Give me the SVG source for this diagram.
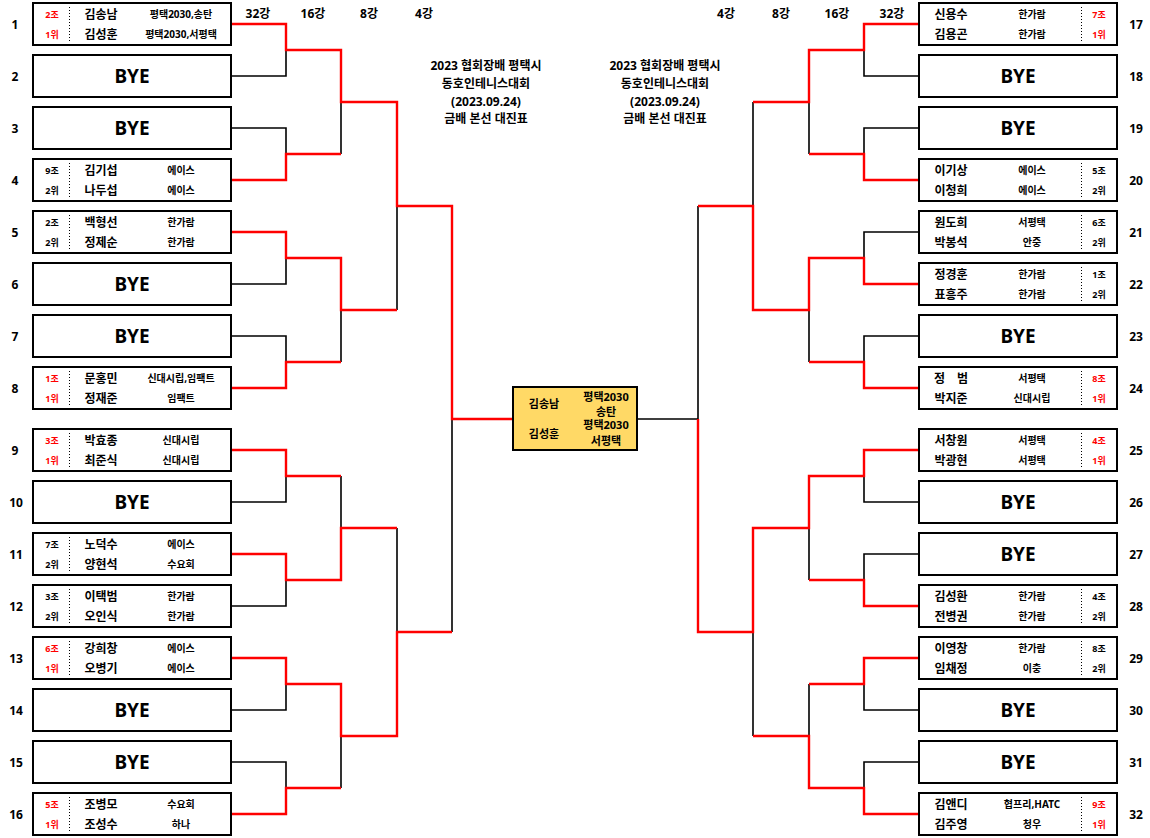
<svg xmlns="http://www.w3.org/2000/svg" width="1150" height="838" viewBox="0 0 1150 838">
<style>
text{font-family:"Noto Sans","Noto Sans CJK KR",sans-serif;font-weight:bold;text-anchor:middle;dominant-baseline:central;fill:#000}
.box{fill:#fff;stroke:#000;stroke-width:2}
.cbox{fill:#FFD966;stroke:#000;stroke-width:2}
.dv{stroke:#000;stroke-width:1;stroke-dasharray:1 2}
.nm{font-size:12px}
.cl{font-size:10px}
.g{font-size:9px}
.r{fill:#FF0000}
.bye{font-size:19px}
.no{font-size:12px}
.hd{font-size:12px}
.tt{font-size:12px}
.ct{font-size:11px}
.bk{fill:none;stroke:#000;stroke-width:1.6}
.rd{fill:none;stroke:#FF0000;stroke-width:2.4}
</style>
<rect x="0" y="0" width="1150" height="838" fill="#fff"/>
<g id="headers">
<text class="hd" x="258" y="13">32강</text>
<text class="hd" x="313" y="13">16강</text>
<text class="hd" x="369" y="13">8강</text>
<text class="hd" x="424" y="13">4강</text>
<text class="hd" x="726" y="13">4강</text>
<text class="hd" x="781" y="13">8강</text>
<text class="hd" x="837" y="13">16강</text>
<text class="hd" x="892" y="13">32강</text>
</g>
<g id="title-left">
<text class="tt" x="486" y="65">2023 협회장배 평택시</text>
<text class="tt" x="486" y="83">동호인테니스대회</text>
<text class="tt" x="486" y="101">(2023.09.24)</text>
<text class="tt" x="486" y="118">금배 본선 대진표</text>
</g>
<g id="title-right">
<text class="tt" x="665" y="65">2023 협회장배 평택시</text>
<text class="tt" x="665" y="83">동호인테니스대회</text>
<text class="tt" x="665" y="101">(2023.09.24)</text>
<text class="tt" x="665" y="118">금배 본선 대진표</text>
</g>
<g id="connectors">
<g id="black-lines">
<path class="bk" d="M231 76H286V50M231 128H286V154M341 154V102M231 284H286V258M231 336H286V362M341 362V310M397 310V206M231 502H286V476M341 476V528M231 606H286V580M231 710H286V684M231 762H286V788M341 788V736M397 528V632M452 632V419"/>
<path class="bk" d="M919 76H864V50M919 128H864V154M809 154V102M753 102V206M919 232H864V258M919 336H864V362M809 362V310M698 206V419H637M919 502H864V476M919 554H864V580M809 580V528M919 710H864V684M919 762H864V788M809 684V736M753 736V632"/>
</g>
<g id="red-lines">
<path class="rd" d="M231 24H286V50H341V102H397V206H452V419H513"/>
<path class="rd" d="M231 180H286V154H341"/>
<path class="rd" d="M231 232H286V258H341V310H397"/>
<path class="rd" d="M231 388H286V362H341"/>
<path class="rd" d="M231 450H286V476H341"/>
<path class="rd" d="M231 554H286V580H341V528H397"/>
<path class="rd" d="M231 658H286V684H341V736H397V632H452"/>
<path class="rd" d="M231 814H286V788H341"/>
<path class="rd" d="M919 24H864V50H809V102H753"/>
<path class="rd" d="M919 180H864V154H809"/>
<path class="rd" d="M919 284H864V258H809V310H753V206H698"/>
<path class="rd" d="M919 388H864V362H809"/>
<path class="rd" d="M919 450H864V476H809V528H753V632H698V419"/>
<path class="rd" d="M919 606H864V580H809"/>
<path class="rd" d="M919 658H864V684H809"/>
<path class="rd" d="M919 814H864V788H809V736H753"/>
</g>
</g>
<g id="final">
<rect class="cbox" x="513" y="387" width="124" height="63"/>
<text class="ct" x="544" y="403">김송남</text>
<text class="ct" x="606" y="396">평택2030</text>
<text class="ct" x="606" y="411">송탄</text>
<text class="ct" x="544" y="433">김성훈</text>
<text class="ct" x="606" y="424">평택2030</text>
<text class="ct" x="606" y="440">서평택</text>
</g>
<g id="n1"><rect class="box" x="33" y="3" width="198" height="42"/><line class="dv" x1="69.5" y1="7" x2="69.5" y2="41"/><text class="g r" x="52" y="14">2조</text><text class="g r" x="52" y="34">1위</text><text class="nm" x="101" y="14">김송남</text><text class="nm" x="101" y="34">김성훈</text><text class="cl" x="181" y="14">평택2030,송탄</text><text class="cl" x="181" y="34">평택2030,서평택</text><text class="no" x="15" y="24">1</text></g>
<g id="n2"><rect class="box" x="33" y="55" width="198" height="42"/><text class="bye" x="132" y="76">BYE</text><text class="no" x="15" y="76">2</text></g>
<g id="n3"><rect class="box" x="33" y="107" width="198" height="42"/><text class="bye" x="132" y="128">BYE</text><text class="no" x="15" y="128">3</text></g>
<g id="n4"><rect class="box" x="33" y="159" width="198" height="42"/><line class="dv" x1="69.5" y1="163" x2="69.5" y2="197"/><text class="g" x="52" y="170">9조</text><text class="g" x="52" y="190">2위</text><text class="nm" x="101" y="170">김기섭</text><text class="nm" x="101" y="190">나두섭</text><text class="cl" x="181" y="170">에이스</text><text class="cl" x="181" y="190">에이스</text><text class="no" x="15" y="180">4</text></g>
<g id="n5"><rect class="box" x="33" y="211" width="198" height="42"/><line class="dv" x1="69.5" y1="215" x2="69.5" y2="249"/><text class="g" x="52" y="222">2조</text><text class="g" x="52" y="242">2위</text><text class="nm" x="101" y="222">백형선</text><text class="nm" x="101" y="242">정제순</text><text class="cl" x="181" y="222">한가람</text><text class="cl" x="181" y="242">한가람</text><text class="no" x="15" y="232">5</text></g>
<g id="n6"><rect class="box" x="33" y="263" width="198" height="42"/><text class="bye" x="132" y="284">BYE</text><text class="no" x="15" y="284">6</text></g>
<g id="n7"><rect class="box" x="33" y="315" width="198" height="42"/><text class="bye" x="132" y="336">BYE</text><text class="no" x="15" y="336">7</text></g>
<g id="n8"><rect class="box" x="33" y="367" width="198" height="42"/><line class="dv" x1="69.5" y1="371" x2="69.5" y2="405"/><text class="g r" x="52" y="378">1조</text><text class="g r" x="52" y="398">1위</text><text class="nm" x="101" y="378">문홍민</text><text class="nm" x="101" y="398">정재준</text><text class="cl" x="181" y="378">신대시립,임팩트</text><text class="cl" x="181" y="398">임팩트</text><text class="no" x="15" y="388">8</text></g>
<g id="n9"><rect class="box" x="33" y="429" width="198" height="42"/><line class="dv" x1="69.5" y1="433" x2="69.5" y2="467"/><text class="g r" x="52" y="440">3조</text><text class="g r" x="52" y="460">1위</text><text class="nm" x="101" y="440">박효종</text><text class="nm" x="101" y="460">최준식</text><text class="cl" x="181" y="440">신대시립</text><text class="cl" x="181" y="460">신대시립</text><text class="no" x="15" y="450">9</text></g>
<g id="n10"><rect class="box" x="33" y="481" width="198" height="42"/><text class="bye" x="132" y="502">BYE</text><text class="no" x="16" y="502">10</text></g>
<g id="n11"><rect class="box" x="33" y="533" width="198" height="42"/><line class="dv" x1="69.5" y1="537" x2="69.5" y2="571"/><text class="g" x="52" y="544">7조</text><text class="g" x="52" y="564">2위</text><text class="nm" x="101" y="544">노덕수</text><text class="nm" x="101" y="564">양현석</text><text class="cl" x="181" y="544">에이스</text><text class="cl" x="181" y="564">수요회</text><text class="no" x="16" y="554">11</text></g>
<g id="n12"><rect class="box" x="33" y="585" width="198" height="42"/><line class="dv" x1="69.5" y1="589" x2="69.5" y2="623"/><text class="g" x="52" y="596">3조</text><text class="g" x="52" y="616">2위</text><text class="nm" x="101" y="596">이택범</text><text class="nm" x="101" y="616">오인식</text><text class="cl" x="181" y="596">한가람</text><text class="cl" x="181" y="616">한가람</text><text class="no" x="16" y="606">12</text></g>
<g id="n13"><rect class="box" x="33" y="637" width="198" height="42"/><line class="dv" x1="69.5" y1="641" x2="69.5" y2="675"/><text class="g r" x="52" y="648">6조</text><text class="g r" x="52" y="668">1위</text><text class="nm" x="101" y="648">강희창</text><text class="nm" x="101" y="668">오병기</text><text class="cl" x="181" y="648">에이스</text><text class="cl" x="181" y="668">에이스</text><text class="no" x="16" y="658">13</text></g>
<g id="n14"><rect class="box" x="33" y="689" width="198" height="42"/><text class="bye" x="132" y="710">BYE</text><text class="no" x="16" y="710">14</text></g>
<g id="n15"><rect class="box" x="33" y="741" width="198" height="42"/><text class="bye" x="132" y="762">BYE</text><text class="no" x="16" y="762">15</text></g>
<g id="n16"><rect class="box" x="33" y="793" width="198" height="42"/><line class="dv" x1="69.5" y1="797" x2="69.5" y2="831"/><text class="g r" x="52" y="804">5조</text><text class="g r" x="52" y="824">1위</text><text class="nm" x="101" y="804">조병모</text><text class="nm" x="101" y="824">조성수</text><text class="cl" x="181" y="804">수요회</text><text class="cl" x="181" y="824">하나</text><text class="no" x="16" y="814">16</text></g>
<g id="n17"><rect class="box" x="919" y="3" width="198" height="42"/><line class="dv" x1="1081.5" y1="7" x2="1081.5" y2="41"/><text class="nm" x="951" y="14">신용수</text><text class="nm" x="951" y="34">김용곤</text><text class="cl" x="1032" y="14">한가람</text><text class="cl" x="1032" y="34">한가람</text><text class="g r" x="1099" y="14">7조</text><text class="g r" x="1099" y="34">1위</text><text class="no" x="1136" y="24">17</text></g>
<g id="n18"><rect class="box" x="919" y="55" width="198" height="42"/><text class="bye" x="1018" y="76">BYE</text><text class="no" x="1136" y="76">18</text></g>
<g id="n19"><rect class="box" x="919" y="107" width="198" height="42"/><text class="bye" x="1018" y="128">BYE</text><text class="no" x="1136" y="128">19</text></g>
<g id="n20"><rect class="box" x="919" y="159" width="198" height="42"/><line class="dv" x1="1081.5" y1="163" x2="1081.5" y2="197"/><text class="nm" x="951" y="170">이기상</text><text class="nm" x="951" y="190">이청희</text><text class="cl" x="1032" y="170">에이스</text><text class="cl" x="1032" y="190">에이스</text><text class="g" x="1099" y="170">5조</text><text class="g" x="1099" y="190">2위</text><text class="no" x="1136" y="180">20</text></g>
<g id="n21"><rect class="box" x="919" y="211" width="198" height="42"/><line class="dv" x1="1081.5" y1="215" x2="1081.5" y2="249"/><text class="nm" x="951" y="222">원도희</text><text class="nm" x="951" y="242">박봉석</text><text class="cl" x="1032" y="222">서평택</text><text class="cl" x="1032" y="242">안중</text><text class="g" x="1099" y="222">6조</text><text class="g" x="1099" y="242">2위</text><text class="no" x="1136" y="232">21</text></g>
<g id="n22"><rect class="box" x="919" y="263" width="198" height="42"/><line class="dv" x1="1081.5" y1="267" x2="1081.5" y2="301"/><text class="nm" x="951" y="274">정경훈</text><text class="nm" x="951" y="294">표흥주</text><text class="cl" x="1032" y="274">한가람</text><text class="cl" x="1032" y="294">한가람</text><text class="g" x="1099" y="274">1조</text><text class="g" x="1099" y="294">2위</text><text class="no" x="1136" y="284">22</text></g>
<g id="n23"><rect class="box" x="919" y="315" width="198" height="42"/><text class="bye" x="1018" y="336">BYE</text><text class="no" x="1136" y="336">23</text></g>
<g id="n24"><rect class="box" x="919" y="367" width="198" height="42"/><line class="dv" x1="1081.5" y1="371" x2="1081.5" y2="405"/><text class="nm" x="951" y="378">정　범</text><text class="nm" x="951" y="398">박지준</text><text class="cl" x="1032" y="378">서평택</text><text class="cl" x="1032" y="398">신대시립</text><text class="g r" x="1099" y="378">8조</text><text class="g r" x="1099" y="398">1위</text><text class="no" x="1136" y="388">24</text></g>
<g id="n25"><rect class="box" x="919" y="429" width="198" height="42"/><line class="dv" x1="1081.5" y1="433" x2="1081.5" y2="467"/><text class="nm" x="951" y="440">서창원</text><text class="nm" x="951" y="460">박광현</text><text class="cl" x="1032" y="440">서평택</text><text class="cl" x="1032" y="460">서평택</text><text class="g r" x="1099" y="440">4조</text><text class="g r" x="1099" y="460">1위</text><text class="no" x="1136" y="450">25</text></g>
<g id="n26"><rect class="box" x="919" y="481" width="198" height="42"/><text class="bye" x="1018" y="502">BYE</text><text class="no" x="1136" y="502">26</text></g>
<g id="n27"><rect class="box" x="919" y="533" width="198" height="42"/><text class="bye" x="1018" y="554">BYE</text><text class="no" x="1136" y="554">27</text></g>
<g id="n28"><rect class="box" x="919" y="585" width="198" height="42"/><line class="dv" x1="1081.5" y1="589" x2="1081.5" y2="623"/><text class="nm" x="951" y="596">김성환</text><text class="nm" x="951" y="616">전병권</text><text class="cl" x="1032" y="596">한가람</text><text class="cl" x="1032" y="616">한가람</text><text class="g" x="1099" y="596">4조</text><text class="g" x="1099" y="616">2위</text><text class="no" x="1136" y="606">28</text></g>
<g id="n29"><rect class="box" x="919" y="637" width="198" height="42"/><line class="dv" x1="1081.5" y1="641" x2="1081.5" y2="675"/><text class="nm" x="951" y="648">이영창</text><text class="nm" x="951" y="668">임채정</text><text class="cl" x="1032" y="648">한가람</text><text class="cl" x="1032" y="668">이충</text><text class="g" x="1099" y="648">8조</text><text class="g" x="1099" y="668">2위</text><text class="no" x="1136" y="658">29</text></g>
<g id="n30"><rect class="box" x="919" y="689" width="198" height="42"/><text class="bye" x="1018" y="710">BYE</text><text class="no" x="1136" y="710">30</text></g>
<g id="n31"><rect class="box" x="919" y="741" width="198" height="42"/><text class="bye" x="1018" y="762">BYE</text><text class="no" x="1136" y="762">31</text></g>
<g id="n32"><rect class="box" x="919" y="793" width="198" height="42"/><line class="dv" x1="1081.5" y1="797" x2="1081.5" y2="831"/><text class="nm" x="951" y="804">김앤디</text><text class="nm" x="951" y="824">김주영</text><text class="cl" x="1032" y="804">협프리,HATC</text><text class="cl" x="1032" y="824">청우</text><text class="g r" x="1099" y="804">9조</text><text class="g r" x="1099" y="824">1위</text><text class="no" x="1136" y="814">32</text></g>
</svg>
